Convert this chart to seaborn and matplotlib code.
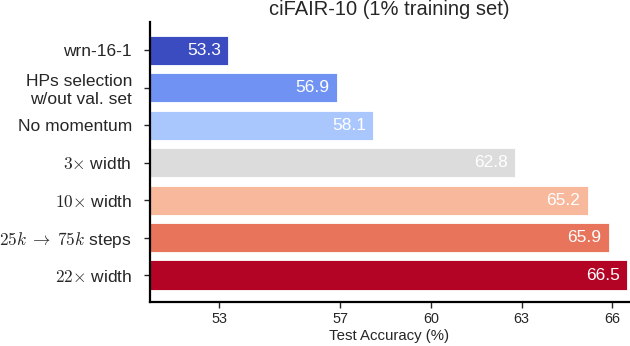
import matplotlib
matplotlib.use("Agg")
import matplotlib.pyplot as plt
import seaborn as sns
import pandas as pd

# data
labels = ["wrn-16-1", "HPs selection\nw/out val. set", "No momentum",
          r"$3{\times}$ width", r"$10{\times}$ width", r"$25k\;\rightarrow\;75k$ steps",
          r"$22{\times}$ width"]
accuracy = [53.3, 56.9, 58.1, 62.8, 65.2, 65.9, 66.5]
xticks = [53, 57, 60, 63, 66]

sns.set_style("white")
plt.rcParams['font.family'] = ['Liberation Sans', 'DejaVu Sans']
plt.rcParams['mathtext.fontset'] = 'cm'

df = pd.DataFrame({"setting": labels, "acc": accuracy})
cmap = plt.get_cmap("coolwarm")
colors = [cmap(i / (len(labels) - 1)) for i in range(len(labels))]

fig, ax = plt.subplots(figsize=(6.3, 3.46), dpi=100)
sns.barplot(data=df, x="acc", y="setting", hue="setting", legend=False,
            palette=colors, orient="h",
            width=0.78, edgecolor="white", linewidth=0.6, saturation=1, ax=ax)

for i, v in enumerate(accuracy):
    ax.text(v - 0.25, i, f"{v:.1f}", color="white", ha="right", va="center",
            fontsize=12.5)

ax.set_xlim(50.7, 66.55)
ax.set_ylim(6.72, -0.75)
ax.set_xticks(xticks)
ax.set_xlabel("Test Accuracy (%)", fontsize=10.8, labelpad=2)
ax.set_ylabel("")
ax.set_title("ciFAIR-10 (1% training set)", fontsize=14.5, pad=5)
ax.tick_params(axis="y", labelsize=12.5, length=4, width=1, left=True, pad=9)
ax.tick_params(axis="x", labelsize=10.4, length=4, width=1, bottom=True)
sns.despine(ax=ax)
for s in ["left", "bottom"]:
    ax.spines[s].set_linewidth(1.6)
    ax.spines[s].set_color("black")

fig.subplots_adjust(left=0.238, right=0.998, top=0.936, bottom=0.127)
fig.savefig("out.png", dpi=100)
